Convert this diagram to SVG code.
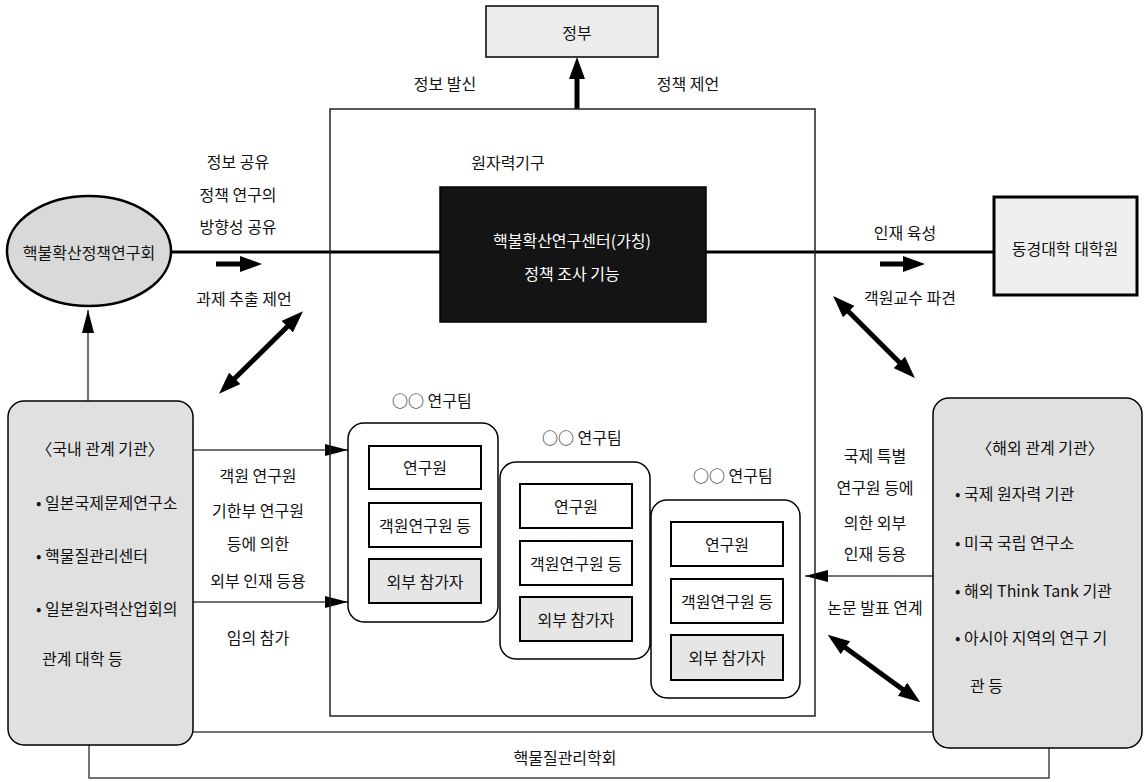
<svg xmlns="http://www.w3.org/2000/svg" width="1145" height="782" viewBox="0 0 1145 782">
<style>
text{font-family:"Noto Sans CJK KR","Noto Sans",sans-serif;font-size:16px;fill:#111;dominant-baseline:central}
.c{text-anchor:middle}
.s{text-anchor:start}
.w{fill:#fff}
.thick{stroke:#000;stroke-width:5;fill:none}
.thin{stroke:#444;stroke-width:1.5;fill:none}
.inner{fill:#fff;stroke:#000;stroke-width:2}
.innerg{fill:#e6e6e6;stroke:#000;stroke-width:2}
.team{fill:#fff;stroke:#000;stroke-width:1.5}
</style>
<defs>
<marker id="hd" markerUnits="userSpaceOnUse" markerWidth="22" markerHeight="16" refX="8" refY="8" orient="auto-start-reverse"><path d="M0,0 L22,8 L0,16 z" fill="#000"/></marker>
<marker id="ht" markerUnits="userSpaceOnUse" markerWidth="23" markerHeight="12" refX="23" refY="6" orient="auto"><path d="M0,0 L23,6 L0,12 z" fill="#000"/></marker>
</defs>

<g id="connectors">
<line x1="171" y1="252" x2="994" y2="252" stroke="#000" stroke-width="3"/>
<line class="thick" x1="577" y1="109" x2="577" y2="71" marker-end="url(#hd)"/>
<line class="thick" x1="216" y1="264" x2="248" y2="264" marker-end="url(#hd)"/>
<line class="thick" x1="880" y1="264" x2="911" y2="264" marker-end="url(#hd)"/>
<line class="thick" stroke-width="4" x1="229" y1="384" x2="293" y2="321" marker-start="url(#hd)" marker-end="url(#hd)"/>
<line class="thick" stroke-width="4" x1="843" y1="306" x2="905" y2="368" marker-start="url(#hd)" marker-end="url(#hd)"/>
<line class="thick" stroke-width="4" x1="839" y1="643" x2="909" y2="694" marker-start="url(#hd)" marker-end="url(#hd)"/>
<line class="thin" x1="88" y1="401" x2="88" y2="310" stroke="#777" marker-end="url(#ht)"/>
<line class="thin" x1="193" y1="450" x2="348" y2="450" marker-end="url(#ht)"/>
<line class="thin" x1="193" y1="602" x2="348" y2="602" marker-end="url(#ht)"/>
<line class="thin" x1="933" y1="576" x2="805" y2="576" marker-end="url(#ht)"/>
<line class="thin" x1="193" y1="732" x2="935" y2="732"/>
<polyline class="thin" points="89,745 89,778 1049,778 1049,748"/>
<text class="c" x="445" y="83">정보 발신</text>
<text class="c" x="688" y="83">정책 제언</text>
<text class="c" x="238" y="161">정보 공유</text>
<text class="c" x="238" y="194">정책 연구의</text>
<text class="c" x="238" y="226">방향성 공유</text>
<text class="c" x="244" y="298">과제 추출 제언</text>
<text class="c" x="905" y="232">인재 육성</text>
<text class="c" x="910" y="297">객원교수 파견</text>
<text class="c" x="258" y="475">객원 연구원</text>
<text class="c" x="258" y="510">기한부 연구원</text>
<text class="c" x="258" y="543">등에 의한</text>
<text class="c" x="258" y="580">외부 인재 등용</text>
<text class="c" x="258" y="637">임의 참가</text>
<text class="c" x="875" y="455">국제 특별</text>
<text class="c" x="875" y="487">연구원 등에</text>
<text class="c" x="875" y="522">의한 외부</text>
<text class="c" x="875" y="553">인재 등용</text>
<text class="c" x="875" y="607">논문 발표 연계</text>
<text class="c" x="565" y="757">핵물질관리학회</text>
</g>

<g id="government">
<rect x="486" y="6" width="172" height="51" fill="#ececec" stroke="#000" stroke-width="1.5"/>
<text class="c" x="577" y="32">정부</text>
</g>

<g id="nuclear-agency">
<rect x="330" y="109" width="485" height="607" fill="none" stroke="#222" stroke-width="1.5"/>
<text class="c" x="508" y="162">원자력기구</text>
</g>

<g id="center">
<rect x="440" y="187" width="266" height="135" fill="#141414" stroke="#000" stroke-width="1.5"/>
<text class="c w" x="572" y="240">핵불확산연구센터(가칭)</text>
<text class="c w" x="572" y="273">정책 조사 기능</text>
</g>

<g id="policy-group">
<ellipse cx="89" cy="251" rx="82" ry="55" fill="#d9d9d9" stroke="#000" stroke-width="2.5"/>
<text class="c" x="89" y="252">핵불확산정책연구회</text>
</g>

<g id="tokyo-univ">
<rect x="994" y="197" width="143" height="98" fill="#efefef" stroke="#000" stroke-width="3"/>
<text class="c" x="1065" y="248">동경대학 대학원</text>
</g>

<g id="domestic">
<rect x="8" y="401" width="185" height="344" rx="16" fill="#e0e0e0" stroke="#000" stroke-width="1.5"/>
<text class="c" x="100" y="448">〈국내 관계 기관〉</text>
<text class="s" x="36" y="502">• 일본국제문제연구소</text>
<text class="s" x="36" y="555">• 핵물질관리센터</text>
<text class="s" x="36" y="608">• 일본원자력산업회의</text>
<text class="s" x="42" y="658">관계 대학 등</text>
</g>

<g id="overseas">
<rect x="933" y="398" width="209" height="350" rx="16" fill="#e0e0e0" stroke="#000" stroke-width="1.5"/>
<text class="c" x="1040" y="447">〈해외 관계 기관〉</text>
<text class="s" x="955" y="493">• 국제 원자력 기관</text>
<text class="s" x="955" y="542">• 미국 국립 연구소</text>
<text class="s" x="955" y="590">• 해외 Think Tank 기관</text>
<text class="s" x="955" y="637">• 아시아 지역의 연구 기</text>
<text class="s" x="970" y="685">관 등</text>
</g>

<g id="team1">
<text class="s" x="392" y="400">○○ 연구팀</text>
<rect class="team" x="348" y="423" width="150" height="199" rx="16"/>
<rect class="inner" x="369" y="446" width="112" height="43"/>
<text class="c" x="425" y="467">연구원</text>
<rect class="inner" x="369" y="503" width="112" height="44"/>
<text class="c" x="425" y="525">객원연구원 등</text>
<rect class="innerg" x="369" y="559" width="112" height="44"/>
<text class="c" x="425" y="581">외부 참가자</text>
</g>

<g id="team2">
<text class="s" x="542" y="437">○○ 연구팀</text>
<rect class="team" x="500" y="462" width="150" height="197" rx="16"/>
<rect class="inner" x="520" y="484" width="112" height="44"/>
<text class="c" x="576" y="506">연구원</text>
<rect class="inner" x="520" y="541" width="112" height="44"/>
<text class="c" x="576" y="563">객원연구원 등</text>
<rect class="innerg" x="520" y="597" width="112" height="44"/>
<text class="c" x="576" y="619">외부 참가자</text>
</g>

<g id="team3">
<text class="s" x="693" y="475">○○ 연구팀</text>
<rect class="team" x="651" y="500" width="149" height="198" rx="16"/>
<rect class="inner" x="671" y="522" width="112" height="44"/>
<text class="c" x="727" y="544">연구원</text>
<rect class="inner" x="671" y="579" width="112" height="44"/>
<text class="c" x="727" y="601">객원연구원 등</text>
<rect class="innerg" x="671" y="635" width="112" height="45"/>
<text class="c" x="727" y="657">외부 참가자</text>
</g>
</svg>
